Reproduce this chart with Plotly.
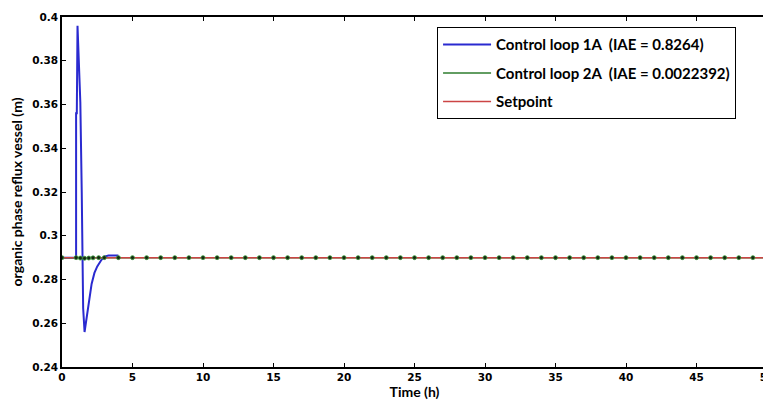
import plotly.graph_objects as go

# Control loop 1A (blue) response
t_1a = [0.0, 1.0, 1.0, 1.05, 1.1, 1.15, 1.2, 1.3, 1.4, 1.45, 1.5, 1.6, 1.75, 1.9, 2.1, 2.3, 2.5, 2.8, 3.0, 3.3, 3.6, 4.0]
y_1a = [0.29, 0.29, 0.356, 0.356, 0.396, 0.385, 0.376, 0.361, 0.32, 0.268, 0.267, 0.256, 0.262, 0.268, 0.278, 0.283, 0.286, 0.289, 0.2905, 0.291, 0.291, 0.291]

# Control loop 2A (green) response
t_2a = [0, 1, 1.3, 1.6, 1.9, 2.2, 2.6, 3, 4, 5, 6, 7, 8, 9, 10, 11, 12, 13, 14, 15, 16, 17, 18, 19, 20,
        21, 22, 23, 24, 25, 26, 27, 28, 29, 30, 31, 32, 33, 34, 35, 36, 37, 38, 39, 40,
        41, 42, 43, 44, 45, 46, 47, 48, 49, 50]
y_2a = [0.29, 0.29, 0.2898, 0.2897, 0.2898, 0.2899, 0.29, 0.29] + [0.29] * 47

# Setpoint
t_sp = [0, 50]
y_sp = [0.29, 0.29]

x_ticks = [0, 5, 10, 15, 20, 25, 30, 35, 40, 45, 50]
y_ticks = [0.24, 0.26, 0.28, 0.3, 0.32, 0.34, 0.36, 0.38, 0.4]

fig = go.Figure()
fig.add_trace(go.Scatter(x=t_1a, y=y_1a, mode="lines", name="<b>Control loop 1A  (IAE = 0.8264)</b>",
                         legendgroup="a", line=dict(color="#2a2ad0", width=2)))
fig.add_trace(go.Scatter(x=t_2a, y=y_2a, mode="lines", name="<b>Control loop 2A  (IAE = 0.0022392)</b>",
                         legendgroup="b", line=dict(color="#2e7d2e", width=1.5)))
fig.add_trace(go.Scatter(x=t_sp, y=y_sp, mode="lines", name="<b>Setpoint</b>",
                         legendgroup="c", line=dict(color="#cc4444", width=1.5)))
fig.add_trace(go.Scatter(x=t_2a, y=y_2a, mode="markers", showlegend=False, legendgroup="b",
                         marker=dict(size=4, color="#142814", line=dict(color="#3c9c3c", width=0.8))))

axis_font = dict(family="DejaVu Sans", size=10.5, color="black")
fig.update_layout(
    width=763, height=392,
    margin=dict(l=54, r=4, t=9, b=33, autoexpand=False),
    paper_bgcolor="white", plot_bgcolor="white",
    showlegend=True,
    legend=dict(x=0.532, y=0.971, xanchor="left", yanchor="top",
                bgcolor="white", bordercolor="black", borderwidth=1,
                font=dict(family="Lato", size=15, color="black"),
                itemwidth=48, tracegroupgap=6),
    xaxis=dict(range=[0, 50], tickvals=x_ticks, ticktext=[f"<b>{v}</b>" for v in x_ticks],
               ticks="inside", ticklen=4, tickcolor="black", showgrid=False, zeroline=False,
               showline=True, linecolor="black", linewidth=1.5, mirror="ticks",
               tickfont=axis_font, automargin=False, ticklabeloverflow="allow",
               title=dict(text="<b>Time (h)</b>", font=dict(family="Lato", size=14, color="black"), standoff=1)),
    yaxis=dict(range=[0.24, 0.4], tickvals=y_ticks, ticktext=[f"<b>{v:g}</b>" for v in y_ticks],
               ticks="inside", ticklen=4, tickcolor="black", showgrid=False, zeroline=False,
               showline=True, linecolor="black", linewidth=1.5, mirror="ticks",
               tickfont=axis_font, automargin=False,
               title=dict(text="<b>organic phase reflux vessel (m)</b>", font=dict(family="Lato", size=14, color="black"), standoff=6)),
)
fig.write_html("out.html")
